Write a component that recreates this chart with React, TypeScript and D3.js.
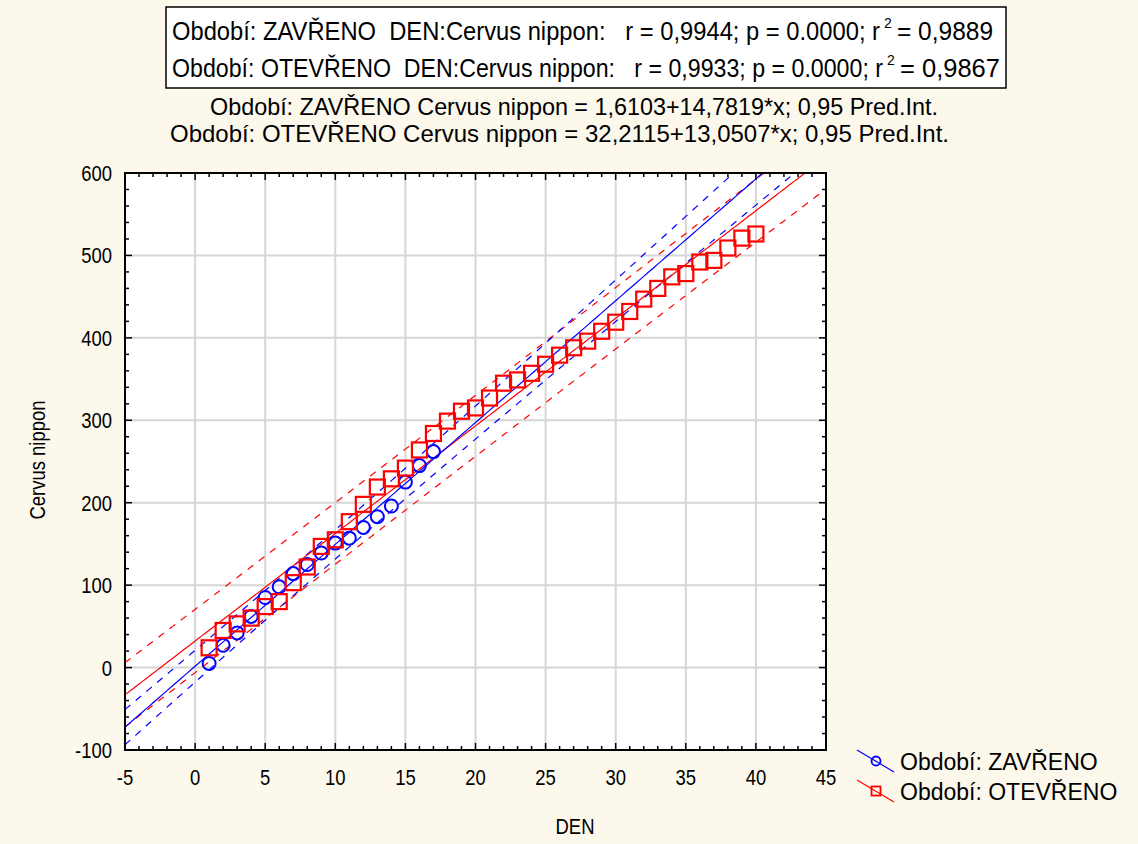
import * as d3 from 'd3';

// Období: ZAVŘENO (closed)
const closedDays = [1, 2, 3, 4, 5, 6, 7, 8, 9, 10, 11, 12, 13, 14, 15, 16, 17];
const closedCount = [5, 27, 42, 62, 85, 98, 114, 125, 139, 151, 157, 170, 183, 196, 225, 245, 262];

// Období: OTEVŘENO (open)
const openDays = [
  1, 2, 3, 4, 5, 6, 7, 8, 9, 10, 11, 12, 13, 14, 15, 16, 17, 18, 19, 20,
  21, 22, 23, 24, 25, 26, 27, 28, 29, 30, 31, 32, 33, 34, 35, 36, 37, 38, 39, 40,
];
const openCount = [
  24, 45, 53, 60, 74, 80, 103, 122, 147, 155, 177, 198, 219, 229, 242, 264, 284, 299, 311, 315,
  327, 345, 349, 357, 368, 379, 388, 396, 408, 419, 432, 447, 460, 474, 478, 492, 494, 509, 521, 526,
];

// regression coefficients as printed in the header, t quantiles for 0.95 PI
const closedFit = { a: 1.6103, b: 14.7819, t: 2.131 };
const openFit = { a: 32.2115, b: 13.0507, t: 2.024 };

const statLines = [
  { head: 'Období: ZAVŘENO  DEN:Cervus nippon:   r = 0,9944; p = 0.0000; r', tail: '= 0,9889' },
  { head: 'Období: OTEVŘENO  DEN:Cervus nippon:   r = 0,9933; p = 0.0000; r', tail: '= 0,9867' },
];
const eqLines = [
  'Období: ZAVŘENO Cervus nippon = 1,6103+14,7819*x; 0,95 Pred.Int.',
  'Období: OTEVŘENO Cervus nippon = 32,2115+13,0507*x; 0,95 Pred.Int.',
];
const legendLabels = ['Období: ZAVŘENO', 'Období: OTEVŘENO'];

const W = 1138;
const H = 844;
const plot = { left: 125, right: 826, top: 173, bottom: 750 };
const BLUE = '#0000ff';
const RED = '#ff0000';
const SANS = '"Liberation Sans", Arial, sans-serif';
const SQUEEZE = 0.84; // the original uses a condensed face

const x = d3.scaleLinear().domain([-5, 45]).range([plot.left, plot.right]);
const y = d3.scaleLinear().domain([-100, 600]).range([plot.bottom, plot.top]);

function predBand(days: number[], counts: number[], fit: { a: number; b: number; t: number }) {
  const n = days.length;
  const mx = d3.mean(days) as number;
  const sxx = d3.sum(days, (d) => (d - mx) ** 2);
  const sse = d3.sum(days, (d, i) => (counts[i] - (fit.a + fit.b * d)) ** 2);
  const s = Math.sqrt(sse / (n - 2));
  const xs = d3.range(-5, 45.001, 0.25);
  const half = (v: number) => fit.t * s * Math.sqrt(1 + 1 / n + (v - mx) ** 2 / sxx);
  const line = d3.line<[number, number]>().x((d) => x(d[0])).y((d) => y(d[1]));
  return {
    fit: line(xs.map((v) => [v, fit.a + fit.b * v])) as string,
    upper: line(xs.map((v) => [v, fit.a + fit.b * v + half(v)])) as string,
    lower: line(xs.map((v) => [v, fit.a + fit.b * v - half(v)])) as string,
  };
}

function Narrow(props: { x: number; y: number; anchor?: string; size?: number; rotate?: boolean; children: any }) {
  const { x: tx, y: ty, anchor = 'start', size = 21, rotate = false, children } = props;
  const t = rotate
    ? `translate(${tx},${ty}) rotate(-90) scale(${SQUEEZE},1)`
    : `translate(${tx},${ty}) scale(${SQUEEZE},1)`;
  return (
    <text transform={t} textAnchor={anchor} fontFamily={SANS} fontSize={size} fill="#000">
      {children}
    </text>
  );
}

export default function App() {
  const closed = predBand(closedDays, closedCount, closedFit);
  const open = predBand(openDays, openCount, openFit);
  const xMajor = x.ticks(10);
  const yMajor = y.ticks(7);
  const xMinor = d3.range(-5, 45.001, 1);
  const yMinor = d3.range(-100, 600.001, 20);
  const pw = plot.right - plot.left;
  const ph = plot.bottom - plot.top;

  // head / superscript / tail positions of the two header rows
  const rows = [
    { headLen: 708, supX: 884, tailX: 897, tailLen: 96 },
    { headLen: 711, supX: 887, tailX: 900, tailLen: 100 },
  ];

  return (
    <svg
      width={W}
      height={H}
      viewBox={`0 0 ${W} ${H}`}
      style={{ position: 'absolute', left: 0, top: 0, display: 'block' }}
    >
      <defs>
        <clipPath id="plot-clip">
          <rect x={plot.left} y={plot.top} width={pw} height={ph} />
        </clipPath>
      </defs>
      <rect width={W} height={H} fill="#fdf8ec" />

      {/* header box */}
      <rect x={166} y={7} width={840} height={81} fill="#ffffff" stroke="#000" strokeWidth={1.5} />
      {statLines.map((l, i) => {
        const by = 40 + i * 37;
        const r = rows[i];
        return (
          <g key={i} fontFamily={SANS} fill="#000">
            <text
              x={172}
              y={by}
              fontSize={25}
              style={{ whiteSpace: 'pre' }}
              textLength={r.headLen}
              lengthAdjust="spacingAndGlyphs"
            >
              {l.head}
            </text>
            <text x={r.supX} y={by - 12} fontSize={14}>
              2
            </text>
            <text x={r.tailX} y={by} fontSize={25} textLength={r.tailLen} lengthAdjust="spacingAndGlyphs">
              {l.tail}
            </text>
          </g>
        );
      })}
      {eqLines.map((l, i) => (
        <text
          key={i}
          x={i === 0 ? 210 : 170}
          y={115 + i * 27}
          fontFamily={SANS}
          fontSize={24}
          fill="#000"
          textLength={i === 0 ? 728 : 779}
          lengthAdjust="spacingAndGlyphs"
        >
          {l}
        </text>
      ))}

      {/* plot area */}
      <rect x={plot.left} y={plot.top} width={pw} height={ph} fill="#ffffff" />
      {xMajor.map((v) => (
        <line key={`gx${v}`} x1={x(v)} x2={x(v)} y1={plot.top} y2={plot.bottom} stroke="#d6d6d6" strokeWidth={2} />
      ))}
      {yMajor.map((v) => (
        <line key={`gy${v}`} x1={plot.left} x2={plot.right} y1={y(v)} y2={y(v)} stroke="#d6d6d6" strokeWidth={2} />
      ))}

      <g clipPath="url(#plot-clip)" fill="none" strokeWidth={1.2}>
        <path d={open.upper} stroke={RED} strokeDasharray="7,7" />
        <path d={open.lower} stroke={RED} strokeDasharray="7,7" />
        <path d={closed.upper} stroke={BLUE} strokeDasharray="7,7" />
        <path d={closed.lower} stroke={BLUE} strokeDasharray="7,7" />
        <path d={open.fit} stroke={RED} />
        <path d={closed.fit} stroke={BLUE} />
        {closedDays.map((d, i) => (
          <circle key={`c${d}`} cx={x(d)} cy={y(closedCount[i])} r={6.5} stroke={BLUE} strokeWidth={2} />
        ))}
        {openDays.map((d, i) => (
          <rect
            key={`o${d}`}
            x={x(d) - 7.5}
            y={y(openCount[i]) - 7.5}
            width={15}
            height={15}
            stroke={RED}
            strokeWidth={2.2}
          />
        ))}
      </g>

      {/* ticks on all four sides, pointing inward */}
      <g stroke="#000" strokeWidth={1.5}>
        {xMinor.map((v) => {
          const len = xMajor.includes(v) ? 7 : 4;
          return (
            <g key={`tx${v}`}>
              <line x1={x(v)} x2={x(v)} y1={plot.bottom} y2={plot.bottom - len} />
              <line x1={x(v)} x2={x(v)} y1={plot.top} y2={plot.top + len} />
            </g>
          );
        })}
        {yMinor.map((v) => {
          const len = yMajor.includes(v) ? 7 : 4;
          return (
            <g key={`ty${v}`}>
              <line x1={plot.left} x2={plot.left + len} y1={y(v)} y2={y(v)} />
              <line x1={plot.right} x2={plot.right - len} y1={y(v)} y2={y(v)} />
            </g>
          );
        })}
      </g>
      <rect x={plot.left} y={plot.top} width={pw} height={ph} fill="none" stroke="#000" strokeWidth={2} />

      {/* tick labels */}
      {xMajor.map((v) => (
        <Narrow key={`lx${v}`} x={x(v)} y={785} anchor="middle" size={22}>
          {v}
        </Narrow>
      ))}
      {yMajor.map((v) => (
        <Narrow key={`ly${v}`} x={112} y={y(v) + 8} anchor="end" size={22}>
          {v}
        </Narrow>
      ))}
      <Narrow x={575} y={834} anchor="middle" size={22}>
        DEN
      </Narrow>
      <Narrow x={45} y={460} anchor="middle" size={22} rotate>
        Cervus nippon
      </Narrow>

      {/* legend */}
      {legendLabels.map((label, i) => {
        const cy = 761 + i * 30;
        const color = i === 0 ? BLUE : RED;
        return (
          <g key={label}>
            <line x1={857} y1={cy - 11} x2={894} y2={cy + 11} stroke={color} strokeWidth={1.2} />
            {i === 0 ? (
              <circle cx={876} cy={cy} r={4.5} fill="none" stroke={color} strokeWidth={1.8} />
            ) : (
              <rect x={871.5} y={cy - 4.5} width={9} height={9} fill="none" stroke={color} strokeWidth={1.8} />
            )}
            <text x={900} y={cy + 8.5} fontFamily={SANS} fontSize={23} fill="#000">
              {label}
            </text>
          </g>
        );
      })}
    </svg>
  );
}
